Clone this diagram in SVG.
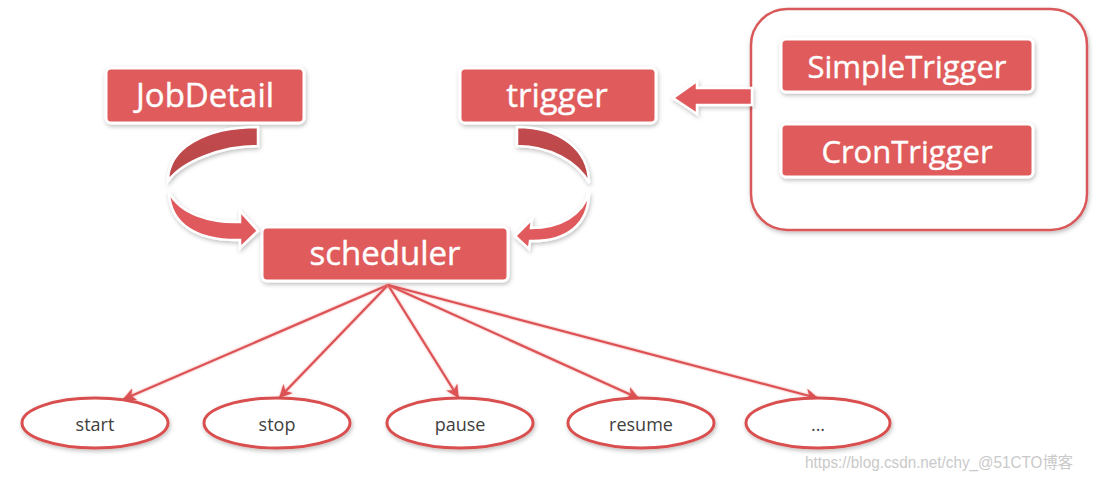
<svg xmlns="http://www.w3.org/2000/svg" width="1096" height="481" viewBox="0 0 1096 481">
<style>
.box{fill:#e05b5c;stroke:#ffffff;stroke-width:3;filter:url(#sh)}
.btxt{font-family:"Open Sans","Noto Sans",sans-serif;fill:#ffffff;text-anchor:middle;stroke:#ffffff;stroke-width:0.4}
.ell{fill:#ffffff;stroke:#d9504f;stroke-width:3;filter:url(#sh)}
.etxt{font-family:"Open Sans","Noto Sans",sans-serif;font-size:18px;fill:#404040;text-anchor:middle}
.line{stroke:#dc5255;stroke-width:2.2;fill:none;marker-end:url(#ah);filter:url(#glow)}
.arm-dark{fill:url(#gdark);stroke:#ffffff;stroke-width:2.5;filter:url(#sh)}
.arm-light{fill:#e05a5d;stroke:#ffffff;stroke-width:2.5;filter:url(#sh)}
</style>
<defs>
<filter id="sh" x="-20%" y="-20%" width="140%" height="150%">
<feDropShadow dx="1" dy="2" stdDeviation="2" flood-color="#000000" flood-opacity="0.25"/>
</filter>
<filter id="glow" x="-10%" y="-10%" width="120%" height="120%">
<feDropShadow dx="0" dy="0" stdDeviation="1.2" flood-color="#f08080" flood-opacity="0.8"/>
</filter>
<linearGradient id="gdark" x1="0" y1="0" x2="0" y2="1">
<stop offset="0" stop-color="#c24b4e"/>
<stop offset="1" stop-color="#b84548"/>
</linearGradient>
<marker id="ah" viewBox="0 0 10 10" refX="9" refY="5" markerWidth="6" markerHeight="6" orient="auto" markerUnits="strokeWidth">
<path d="M0,0 L10,5 L0,10 L3,5 Z" fill="#dc5255"/>
</marker>
</defs>

<g id="watermark">
<text x="805" y="468" font-family="'Liberation Sans','Noto Sans CJK SC',sans-serif" font-size="16" fill="#c9c9c9" textLength="268" lengthAdjust="spacingAndGlyphs">https://blog.csdn.net/chy_@51CTO博客</text>
</g>

<g id="triggerGroup">
<rect x="751" y="9" width="336" height="221" rx="36" fill="#ffffff" stroke="#d9585a" stroke-width="2.5" filter="url(#sh)"/>
</g>

<g id="SimpleTrigger">
<rect class="box" x="781" y="39" width="252" height="53" rx="5"/>
<text class="btxt" x="907" y="78" font-size="31">SimpleTrigger</text>
</g>
<g id="CronTrigger">
<rect class="box" x="781" y="124" width="252" height="53" rx="5"/>
<text class="btxt" x="907" y="163" font-size="31">CronTrigger</text>
</g>

<g id="JobDetail">
<rect class="box" x="106" y="68" width="198" height="55" rx="5"/>
<text class="btxt" x="205" y="107" font-size="33">JobDetail</text>
</g>
<g id="trigger">
<rect class="box" x="460" y="68" width="196" height="55" rx="5"/>
<text class="btxt" x="557" y="107" font-size="33">trigger</text>
</g>
<g id="scheduler">
<rect class="box" x="262" y="227" width="246" height="54" rx="5"/>
<text class="btxt" x="385" y="265" font-size="33">scheduler</text>
</g>

<g id="connectors">
<!-- block arrow from trigger types to trigger -->
<path d="M752,88 L697,88 L697,81 L673,98 L697,114 L697,105 L752,105 Z" fill="#e05a5d" stroke="#ffffff" stroke-width="2.5" filter="url(#sh)"/>
<!-- left curved arrow JobDetail -> scheduler -->
<path class="arm-dark" d="M258,127 C205,127 168,148 168,181 C182,162 220,146 258,146 Z"/>
<path class="arm-light" d="M169,192 C180,214 210,223 240,222 L240,211 L258,231 L240,248 L240,240 C198,241 170,225 169,192 Z"/>
<!-- right curved arrow trigger -> scheduler -->
<path class="arm-dark" d="M517,127 C560,127 589,150 589,183 C578,162 550,146 517,146 Z"/>
<path class="arm-light" d="M589,192 C583,215 560,228 531,228 L532,219 L515,236 L529,249 L530,241 C566,242 589,225 589,192 Z"/>
<!-- scheduler to actions -->
<path class="line" d="M388,285 L124,399"/>
<path class="line" d="M388,285 L280,397"/>
<path class="line" d="M388,285 L458,397"/>
<path class="line" d="M388,285 L638,398"/>
<path class="line" d="M388,285 L817,398"/>
</g>

<g id="start">
<ellipse class="ell" cx="95" cy="423" rx="73" ry="25"/>
<text class="etxt" x="95" y="431">start</text>
</g>
<g id="stop">
<ellipse class="ell" cx="277" cy="423" rx="73" ry="25"/>
<text class="etxt" x="277" y="431">stop</text>
</g>
<g id="pause">
<ellipse class="ell" cx="460" cy="423" rx="73" ry="25"/>
<text class="etxt" x="460" y="431">pause</text>
</g>
<g id="resume">
<ellipse class="ell" cx="641" cy="423" rx="73" ry="25"/>
<text class="etxt" x="641" y="431">resume</text>
</g>
<g id="more">
<ellipse class="ell" cx="818" cy="423" rx="72" ry="25"/>
<text class="etxt" x="818" y="431">...</text>
</g>
</svg>
